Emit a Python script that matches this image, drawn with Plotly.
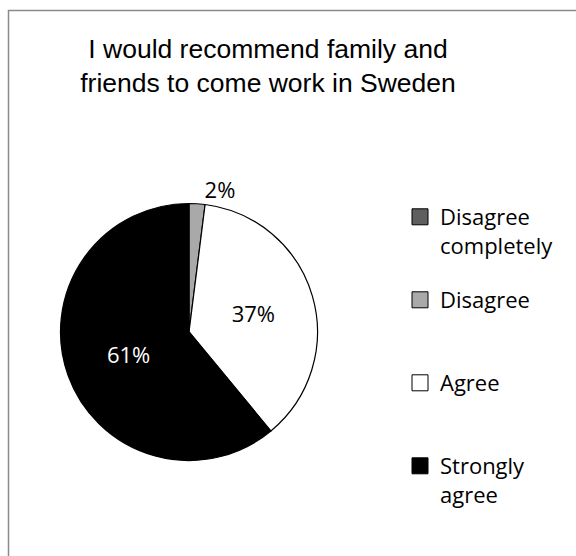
import plotly.graph_objects as go

# Survey answers, in the order they are drawn (clockwise from 12 o'clock)
categories = ["Disagree completely", "Disagree", "Agree", "Strongly agree"]
legend_labels = ["Disagree<br>completely", "Disagree", "Agree", "Strongly<br>agree"]
shares = [0, 2, 37, 61]

fill_colors = ["#5f5f5f", "#a9a9a9", "#ffffff", "#000000"]
label_colors = ["#000000", "#000000", "#000000", "#ffffff"]
label_positions = ["inside", "outside", "inside", "inside"]

W, H = 576, 556


def fx(px):
    return px / W


def fy(py):
    return 1 - py / H


fig = go.Figure()

# pie centred at (189, 332) px with a radius of ~128 px
cx, cy, r = 189, 332, 128.5
fig.add_trace(go.Pie(
    labels=categories,
    values=shares,
    sort=False,
    direction="clockwise",
    rotation=0,
    marker=dict(colors=fill_colors, line=dict(color="#000000", width=1.2)),
    texttemplate=["" if v == 0 else "%{percent:.0%}" for v in shares],
    textposition=label_positions,
    insidetextorientation="horizontal",
    textfont=dict(family="Open Sans", size=22, color=label_colors),
    showlegend=False,
    hoverinfo="label+percent",
    domain=dict(x=[fx(cx - r), fx(cx + r)], y=[fy(cy + r), fy(cy - r)]),
))

# legend entries, one legend per entry so they can sit on an even pitch
legend_tops = [196, 279, 362, 445]
for i, (name, color) in enumerate(zip(legend_labels, fill_colors)):
    key = "legend" if i == 0 else f"legend{i + 1}"
    fig.add_trace(go.Scatter(
        x=[None], y=[None], mode="markers", name=name,
        marker=dict(symbol="square", size=16, color=color,
                    line=dict(color="#000000", width=1)),
        legend=key, showlegend=True, hoverinfo="skip",
    ))
    fig.layout[key] = dict(
        x=fx(400), y=fy(legend_tops[i]), xanchor="left", yanchor="top",
        valign="top", bgcolor="rgba(0,0,0,0)", itemsizing="trace",
        font=dict(family="Open Sans", size=22, color="#000000"),
        itemclick=False, itemdoubleclick=False,
    )

fig.update_layout(
    width=W, height=H,
    margin=dict(l=0, r=0, t=0, b=0),
    paper_bgcolor="#ffffff",
    plot_bgcolor="#ffffff",
    xaxis=dict(visible=False),
    yaxis=dict(visible=False),
    title=dict(
        text="I would recommend family and<br>friends to come work in Sweden",
        font=dict(family="Liberation Sans", size=26.5, color="#000000"),
        x=fx(268), xanchor="center", xref="paper",
        y=fy(58), yanchor="top", yref="paper",
    ),
    shapes=[dict(
        type="rect", xref="paper", yref="paper",
        x0=fx(8.5), x1=1.05, y0=-0.05, y1=fy(10.5),
        line=dict(color="#8a8a8a", width=1.5), fillcolor="rgba(0,0,0,0)",
        layer="below",
    )],
)

fig.write_html("out.html")
